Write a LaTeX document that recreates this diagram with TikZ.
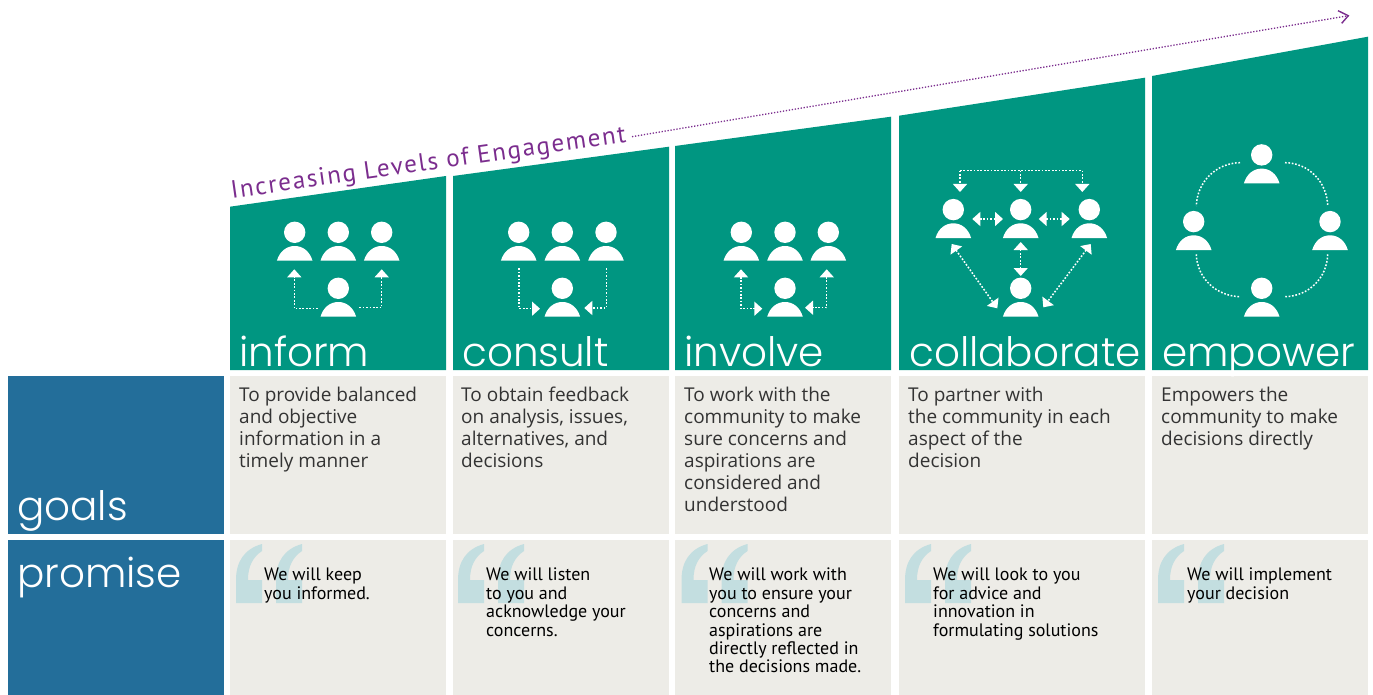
\documentclass[tikz,border=0pt]{standalone}
\usepackage{fontspec}
\setmainfont{Lato}
\newfontfamily\thinfont{Poppins Light}
\newfontfamily\bodyfont{Open Sans}
\newfontfamily\promisefont{PT Sans}
\newfontfamily\titlefont[LetterSpace=7]{PT Sans}
\usetikzlibrary{arrows.meta}
\definecolor{tealbox}{HTML}{009681}
\definecolor{bluebox}{HTML}{236E9A}
\definecolor{greybox}{HTML}{EDECE7}
\definecolor{quotec}{HTML}{C3DEE0}
\definecolor{purplec}{HTML}{7B2D8E}
\tikzset{
  x=1pt,y=-1pt,
  conn/.style={draw=white,line width=1.5pt,dash pattern=on 1.7pt off 1.7pt},
  tip/.style={-{Triangle[width=14pt,length=8pt,fill=white,color=white]}},
  tips/.style={{Triangle[width=14pt,length=8pt,fill=white,color=white]}-{Triangle[width=14pt,length=8pt,fill=white,color=white]}},
  heading/.style={anchor=base west,inner sep=0pt,text=white,font=\thinfont\fontsize{40.5}{41}\selectfont},
  goaltext/.style={anchor=north west,inner sep=0pt,align=left,text=black!80,font=\bodyfont\fontsize{19}{22}\selectfont},
  promisetext/.style={anchor=north west,inner sep=0pt,align=left,text=black,font=\promisefont\fontsize{18}{18.4}\selectfont},
}
\newcommand{\person}[3]{%
  \coordinate (#3) at (#1,#2);
  \fill[white] (#1,#2-28.4) circle[radius=10.7];
  \fill[white] (#1-17.8,#2) .. controls (#1-15,#2-9.5) and (#1-8,#2-14.7) .. (#1,#2-14.7)
     .. controls (#1+8,#2-14.7) and (#1+15,#2-9.5) .. (#1+17.8,#2) -- cycle;}
\newcommand{\quotes}[2]{%
  \foreach \dx in {0,40}{
  \fill[quotec] (#1+\dx,#2+36) .. controls (#1+\dx,#2+18) and (#1+\dx+8,#2+5) .. (#1+\dx+26,#2)
    -- (#1+\dx+26,#2+7) .. controls (#1+\dx+17,#2+13) and (#1+\dx+12,#2+22) .. (#1+\dx+12,#2+36)
    -- (#1+\dx+26,#2+36) -- (#1+\dx+26,#2+59) -- (#1+\dx,#2+59) -- cycle;}}
\begin{document}
\begin{tikzpicture}
\useasboundingbox (0,0) rectangle (1373,695);
% header columns
\fill[tealbox] (230,206.7) -- (446,176) -- (446,370) -- (230,370) -- cycle;
\fill[tealbox] (453,176) -- (669,146.7) -- (669,370) -- (453,370) -- cycle;
\fill[tealbox] (675,146) -- (891,116.7) -- (891,370) -- (675,370) -- cycle;
\fill[tealbox] (899,115.7) -- (1145,77.7) -- (1145,370) -- (899,370) -- cycle;
\fill[tealbox] (1152,76) -- (1368,36.7) -- (1368,370) -- (1152,370) -- cycle;
% rows
\fill[bluebox] (8,376) rectangle (224,534);
\fill[bluebox] (8,540) rectangle (224,695);
\foreach \a/\b in {230/446,453/669,675/891,899/1145,1152/1368}{
  \fill[greybox] (\a,376) rectangle (\b,534);
  \fill[greybox] (\a,540) rectangle (\b,695);
}
% title arrow
\node[rotate=8.1,anchor=base west,inner sep=0pt,text=purplec,font=\titlefont\fontsize{25}{25}\selectfont] (title) at (232,198.5) {Increasing Levels of Engagement};
\coordinate (arrowstart) at (632,136.7);
\coordinate (arrowend) at (1348.3,15.7);
\coordinate (heada) at (1338,10.7);
\coordinate (headb) at (1341.7,23.3);
\draw[purplec,line width=1.3pt,dash pattern=on 1.3pt off 1.7pt] (arrowstart) -- (arrowend);
\draw[purplec,line width=1.4pt] (heada) -- (arrowend) -- (headb);
% headings
\node[heading] (h1) at (239,366) {inform};
\node[heading] (h2) at (462,366) {consult};
\node[heading] (h3) at (684,366) {involve};
\node[heading] (h4) at (909,366) {collaborate};
\node[heading] (h5) at (1162,366) {empower};
\node[heading] (goals) at (17,520) {goals};
\node[heading] (promise) at (17,587.5) {promise};
% goals
\node[goaltext] (g1) at (239,387) {To provide balanced\\and objective\\information in a\\timely manner};
\node[goaltext] (g2) at (461,387) {To obtain feedback\\on analysis, issues,\\alternatives, and\\decisions};
\node[goaltext] (g3) at (684,387) {To work with the\\community to make\\sure concerns and\\aspirations are\\considered and\\understood};
\node[goaltext] (g4) at (908,387) {To partner with\\the community in each\\aspect of the\\decision};
\node[goaltext] (g5) at (1161,387) {Empowers the\\community to make\\decisions directly};
% quotes
\quotes{236}{544}
\quotes{458}{544}
\quotes{681.5}{544}
\quotes{905}{544}
\quotes{1158}{544}
\node[promisetext] (p1) at (264,568) {We will keep\\you informed.};
\node[promisetext] (p2) at (486,568) {We will listen\\to you and\\acknowledge your\\concerns.};
\node[promisetext] (p3) at (709,568) {We will work with\\you to ensure your\\concerns and\\aspirations are\\directly reflected in\\the decisions made.};
\node[promisetext] (p4) at (933,568) {We will look to you\\for advice and\\innovation in\\formulating solutions};
\node[promisetext] (p5) at (1187,568) {We will implement\\your decision};
% column 1
\person{294.7}{260.7}{a1}\person{338.3}{260.7}{a2}\person{381.7}{260.7}{a3}\person{338.3}{316.7}{a4}
\draw[conn,tip] (317.7,308.7) -| (294.3,269.3);
\draw[conn,tip] (359.3,307.7) -| (381.7,269.3);
% column 2
\person{518.7}{260.7}{b1}\person{562.3}{260.7}{b2}\person{606}{260.7}{b3}\person{562.3}{316.7}{b4}
\draw[conn,tip] (519,268.3) |- (540,308.7);
\draw[conn,tip] (606.3,268.3) |- (584.3,308);
% column 3
\person{741.3}{260.7}{c1}\person{785}{260.7}{c2}\person{828.3}{260.7}{c3}\person{785}{316.7}{c4}
\draw[conn,tips] (741,269.3) |- (762.3,308.7);
\draw[conn,tips] (826.7,269.3) |- (805,307.7);
% column 4
\person{953.3}{238}{d1}\person{1020.7}{238}{d2}\person{1089.3}{238}{d3}\person{1020.7}{316.7}{d4}
\draw[conn] (960,170.7) -- (1082.3,170.7);
\draw[conn,tip] (960,170.7) -- (960,192);
\draw[conn,tip] (1020.7,170.7) -- (1020.7,192);
\draw[conn,tip] (1082.3,170.7) -- (1082.3,192);
\draw[conn,tips] (972.3,219) -- (1003,219);
\draw[conn,tips] (1038.7,219) -- (1069.7,219);
\draw[conn,tips] (1020.7,242) -- (1020.7,276);
\draw[conn,tips] (951.7,244) -- (997.3,308.3);
\draw[conn,tips] (1090.7,244) -- (1043.3,307.3);
% column 5
\person{1261.7}{183.3}{e1}\person{1193.7}{250}{e2}\person{1330}{250}{e3}\person{1261.7}{316.7}{e4}
\draw[conn] (1240,162.7) .. controls (1216,163) and (1197,182) .. (1196.3,206);
\draw[conn] (1285,162.7) .. controls (1309,163) and (1327,182) .. (1327.7,206);
\draw[conn] (1196.3,254.3) .. controls (1197,278) and (1216,296) .. (1240,296.7);
\draw[conn] (1327.7,254.3) .. controls (1327,278) and (1309,296) .. (1285,296.7);
\end{tikzpicture}
\end{document}
